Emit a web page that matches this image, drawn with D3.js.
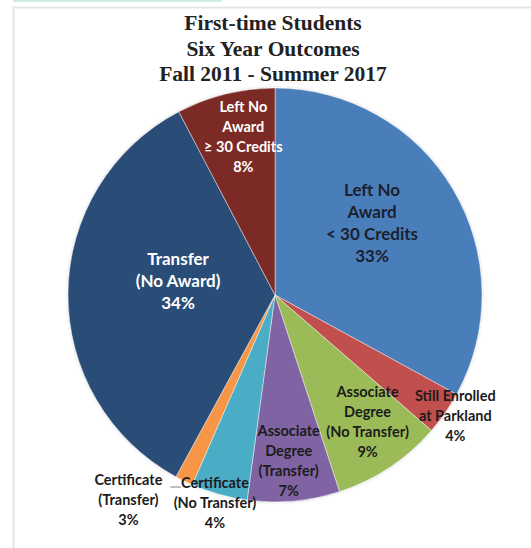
<!DOCTYPE html>
<html>
<head>
<meta charset="utf-8">
<script src="https://cdn.jsdelivr.net/npm/d3@7"></script>
<style>
  body { margin: 0; background: #fff; }
  svg { display: block; }
</style>
</head>
<body>
<script>
// chart data
let titleLines = ['First-time Students', 'Six Year Outcomes', 'Fall 2011 - Summer 2017']

let categories = [
    ['Left No', 'Award', '< 30 Credits'],
    ['Still Enrolled', 'at Parkland'],
    ['Associate', 'Degree', '(No Transfer)'],
    ['Associate', 'Degree', '(Transfer)'],
    ['Certificate', '(No Transfer)'],
    ['Certificate', '(Transfer)'],
    ['Transfer', '(No Award)'],
    ['Left No', 'Award', '\u2265 30 Credits']
]
// slice sizes measured off the pie (percent)
let shares = [33.0, 3.4, 8.6, 7.2, 4.4, 1.4, 34.4, 7.7]
// percentages printed in the labels
let pctLabels = ['33%', '4%', '9%', '7%', '4%', '3%', '34%', '8%']

let colors = ['#4a7ebb', '#c0504d', '#9bbb59', '#8064a2', '#4bacc6', '#f79646', '#2c4d77', '#7b2a27']

// label styling: [radius, angle shift (deg), font size, line height, text colour]
let labelStyle = [
    [121, -6, 17, 22, '#1b1f2e'],
    [217, -1, 14.5, 20, '#1b1b1b'],
    [157, -2.5, 14.5, 20, '#1b1b1b'],
    [166, 0.5, 14.5, 20, '#1b1b1b'],
    [216, 0.5, 14.5, 20, '#1b1b1b'],
    [252, 9.5, 14.5, 20, '#1b1b1b'],
    [98, 8, 17, 22, '#ffffff'],
    [161, 2.5, 14.5, 20, '#ffffff']
]

let width = 531
let height = 548
let cx = 275, cy = 295      // pie centre
let radius = 207

let svg = d3.select('body').append('svg')
    .attr('width', width)
    .attr('height', height)

// thin teal strip and the grey frame of the screenshot
svg.append('rect').attr('x', 13).attr('y', 0).attr('width', 209).attr('height', 2).attr('fill', '#cdeee4')
svg.append('rect')
    .attr('x', 13.5).attr('y', 7.5)
    .attr('width', 530).attr('height', 560)
    .attr('fill', 'none').attr('stroke', '#e6e6e6').attr('stroke-width', 2)

// title
svg.append('text')
    .attr('x', 273)
    .attr('y', 30)
    .attr('text-anchor', 'middle')
    .style('font-family', '"Liberation Serif", "Times New Roman", serif')
    .style('font-weight', 'bold')
    .style('font-size', '21.5px')
    .attr('fill', '#222')
    .selectAll('tspan').data(titleLines).enter().append('tspan')
    .attr('x', 273)
    .attr('dy', (d, i) => i == 0 ? 0 : 25.5)
    .text(d => d)

let defs = svg.append('defs')
let shadow = defs.append('filter').attr('id', 'soft').attr('x', '-10%').attr('y', '-10%').attr('width', '120%').attr('height', '120%')
shadow.append('feDropShadow').attr('dx', 0).attr('dy', 0).attr('stdDeviation', 1.5).attr('flood-color', '#000').attr('flood-opacity', 0.2)

let pie = d3.pie().sort(null).value(d => d)
let arcs = pie(shares)
let arc = d3.arc().innerRadius(0).outerRadius(radius)

let g = svg.append('g').attr('transform', 'translate(' + cx + ',' + cy + ')')

g.append('g').attr('filter', 'url(#soft)')
    .selectAll('path').data(arcs).enter().append('path')
    .attr('d', arc)
    .attr('fill', (d, i) => colors[i])
    .attr('stroke', 'rgba(255,255,255,0.55)')
    .attr('stroke-width', 0.8)

// label positions from the slice angle
let labelPoint = (d, i) => {
    let a = (d.startAngle + d.endAngle) / 2 + labelStyle[i][1] * Math.PI / 180
    let r = labelStyle[i][0]
    return [r * Math.sin(a), -r * Math.cos(a)]
}

g.selectAll('.slice-label').data(arcs).enter().append('text')
    .attr('class', 'slice-label')
    .attr('text-anchor', 'middle')
    .style('font-family', 'Lato, "Open Sans", sans-serif')
    .style('font-weight', 'bold')
    .style('font-size', (d, i) => labelStyle[i][2] + 'px')
    .attr('fill', (d, i) => labelStyle[i][4])
    .each(function(d, i) {
        let lines = categories[i].concat([pctLabels[i]])
        let p = labelPoint(d, i)
        let lh = labelStyle[i][3]
        let y0 = p[1] - (lines.length - 1) * lh / 2 + labelStyle[i][2] * 0.35
        d3.select(this).selectAll('tspan').data(lines).enter().append('tspan')
            .attr('x', p[0])
            .attr('y', (t, j) => y0 + j * lh)
            .text(t => t)
    })

// leader for the small orange slice
let orange = arcs[5]
let oa = (orange.startAngle + orange.endAngle) / 2
let lp = labelPoint(orange, 5)
let ly = lp[1] - 20 + 14.5 * 0.35 + 2
g.append('line')
    .attr('x1', lp[0] + 42).attr('y1', ly)
    .attr('x2', (radius - 2) * Math.sin(oa) - 4).attr('y2', ly)
    .attr('stroke', '#7f7f7f').attr('stroke-width', 1)
</script>
</body>
</html>
